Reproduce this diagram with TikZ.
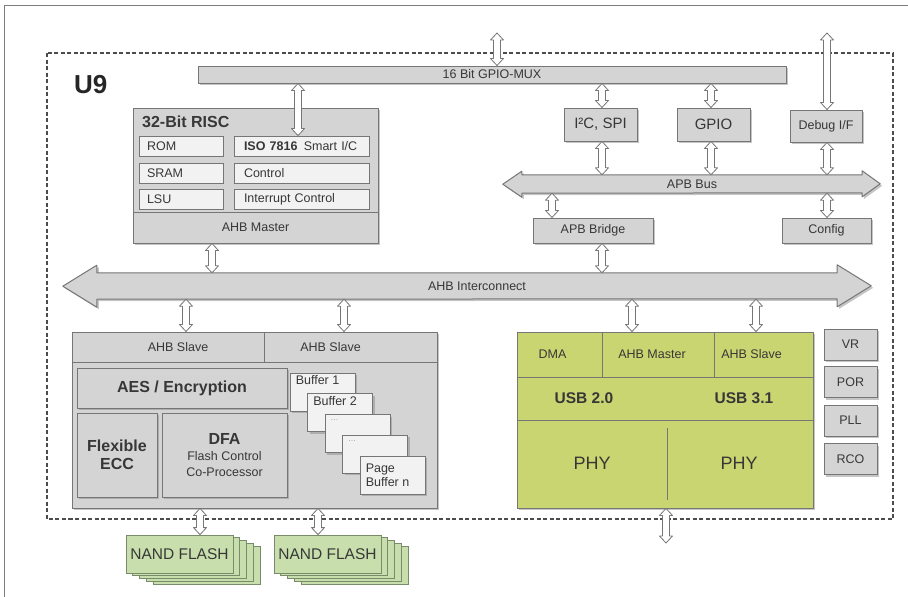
\documentclass[tikz,border=0pt]{standalone}
\usepackage{fontspec}
\setmainfont{Liberation Sans}
\usetikzlibrary{calc,shadows,backgrounds}

\definecolor{boxgray}{RGB}{212,212,212}
\definecolor{boxline}{RGB}{118,118,118}
\definecolor{cellwhite}{RGB}{242,242,242}
\definecolor{usbgreen}{RGB}{201,213,112}
\definecolor{nandgreen}{RGB}{200,222,172}
\definecolor{nandline}{RGB}{120,140,105}
\definecolor{txtgray}{RGB}{55,55,55}
\definecolor{framegray}{RGB}{125,125,125}

\tikzset{
  lbl/.style={font=\fontsize{12.5}{14}\selectfont, text=txtgray},
  bigbf/.style={font=\fontsize{16}{18}\selectfont\bfseries, text=txtgray},
  shade box/.style={drop shadow={shadow xshift=2pt, shadow yshift=-2pt, opacity=0.45}},
  graybox/.style={draw=boxline, fill=boxgray, line width=1pt, inner sep=0pt, shade box, lbl},
  stripbox/.style={draw=boxline, fill=boxgray, line width=1pt, inner sep=0pt, lbl},
  cellbox/.style={draw=boxline, fill=cellwhite, line width=0.9pt, inner sep=0pt, lbl},
  leftcell/.style={cellbox, inner xsep=8pt, align=left, minimum height=20pt},
  bufbox/.style={cellbox, shade box, minimum width=65pt, minimum height=38pt},
  buflbl/.style={lbl, anchor=north west, inner xsep=6pt, inner ysep=3pt},
  dotlbl/.style={font=\fontsize{9}{9}\selectfont, text=black!35, anchor=north west, inner xsep=6pt, inner ysep=5pt},
  greencell/.style={draw=boxline, fill=usbgreen, line width=0.9pt, inner sep=0pt, lbl},
  sidebox/.style={graybox, minimum width=53pt, minimum height=31pt},
  nandcard/.style={draw=nandline, fill=nandgreen, line width=0.8pt, minimum width=107pt, minimum height=38pt, inner sep=0pt,
    font=\fontsize{15.5}{16}\selectfont, text=txtgray},
  dlink/.style={draw=boxline, fill=white, line width=0.8pt, line join=round},
  busfill/.style={draw=boxline, fill=boxgray, line width=1pt, line join=round, shade box},
}

% hollow up/down arrow at x, from an upper anchor to a lower anchor
\newcommand{\dblarrow}[3]{%
  \draw[dlink] let \p1=(#2), \p2=(#3), \p3=(#1,0) in
    (\x3-3.5pt,\y1-7pt) -- (\x3-6.5pt,\y1-7pt) -- (\x3,\y1) -- (\x3+6.5pt,\y1-7pt) -- (\x3+3.5pt,\y1-7pt)
    -- (\x3+3.5pt,\y2+7pt) -- (\x3+6.5pt,\y2+7pt) -- (\x3,\y2) -- (\x3-6.5pt,\y2+7pt) -- (\x3-3.5pt,\y2+7pt) -- cycle;}

\begin{document}
\begin{tikzpicture}[x=1pt,y=-1pt]
\useasboundingbox (0,0) rectangle (908,597);
\begin{scope}[on background layer]
\fill[white] (0,0) rectangle (908,597);
\end{scope}

% frame and chip outline
\draw[framegray, line width=1.5pt] (4.5,597) -- (4.5,5.5) -- (908,5.5);
\draw[black!70, line width=1.2pt, dash pattern=on 4pt off 2.5pt] (47,53) rectangle (893,519);
\node[font=\fontsize{26}{26}\selectfont\bfseries, text=black!85, anchor=west, inner sep=0pt] (u9) at (74,85) {U9};

\coordinate (muxtop) at (497,33);
\coordinate (dbgtop) at (827,33);
\coordinate (usbout) at (666,543);

% GPIO mux and RISC core
\node[graybox, minimum width=588pt, minimum height=17pt] (mux) at (492,74.5) {16 Bit GPIO-MUX};

\node[graybox, minimum width=245pt, minimum height=135pt] (risc) at (255.5,175.5) {};
\node[bigbf, anchor=west, inner sep=0pt] (risctitle) at (142,122) {32-Bit RISC};
\node[leftcell, text width=68pt] (rom) at (181,146) {ROM};
\node[leftcell, text width=68pt] (sram) at (181,173) {SRAM};
\node[leftcell, text width=68pt] (lsu) at (181,199.5) {LSU};
\node[leftcell, text width=115pt, inner xsep=10pt] (iso) at (301.5,146) {{\bfseries ISO 7816}\enspace Smart I/C};
\node[leftcell, text width=115pt, inner xsep=10pt] (ctrl) at (301.5,173) {Control};
\node[leftcell, text width=115pt, inner xsep=10pt] (intctrl) at (301.5,199.5) {Interrupt Control};
\node[stripbox, minimum width=245pt, minimum height=31pt] (rmaster) at (255.5,227.5) {AHB Master};

% peripherals and APB
\node[graybox, minimum width=73pt, minimum height=33pt, font=\fontsize{15}{16}\selectfont] (i2c) at (600.5,124.5) {I²C, SPI};
\node[graybox, minimum width=73pt, minimum height=33pt, font=\fontsize{15}{16}\selectfont] (gpio) at (713.5,124.5) {GPIO};
\node[graybox, minimum width=72pt, minimum height=32pt] (debug) at (826,126) {Debug I/F};

\node[lbl, minimum width=340pt, minimum height=18pt, inner sep=0pt] (apb) at (692,184) {APB Bus};
\node[graybox, minimum width=120pt, minimum height=25pt] (apbbr) at (593,230.5) {APB Bridge};
\node[graybox, minimum width=89pt, minimum height=25pt] (config) at (826.5,230.5) {Config};

\node[minimum width=740pt, minimum height=26pt, inner sep=0pt,
  label={[lbl, xshift=10pt]center:AHB Interconnect}] (ahb) at (467,286) {};

\begin{scope}[on background layer]
\draw[busfill] (apb.north west) -- (apb.north east) -- ++(0,-4) -- ++(18,13) -- ++(-18,13) -- ++(0,-4)
  -- (apb.south west) -- ++(0,4) -- ++(-19,-13) -- ++(19,-13) -- cycle;
\draw[busfill] (ahb.north west) -- (ahb.north east) -- ++(0,-8) -- ++(34,21) -- ++(-34,21) -- ++(0,-8)
  -- (ahb.south west) -- ++(0,8) -- ++(-34,-21) -- ++(34,-21) -- cycle;
\end{scope}

% NAND controller
\node[graybox, minimum width=365pt, minimum height=176pt] (nandc) at (254.5,420) {};
\node[stripbox, minimum width=192pt, minimum height=30pt, label={[lbl, xshift=10pt]center:AHB Slave}] (slave1) at (168,347) {};
\node[stripbox, minimum width=173pt, minimum height=30pt, label={[lbl, xshift=-20pt]center:AHB Slave}] (slave2) at (350.5,347) {};
\node[graybox, bigbf, minimum width=210pt, minimum height=40pt] (aes) at (182,388) {AES / Encryption};
\node[graybox, bigbf, minimum width=80pt, minimum height=84pt, align=center] (ecc) at (117,455) {Flexible\\ECC};
\node[graybox, minimum width=125pt, minimum height=84pt, align=center, font=\fontsize{12.5}{16}\selectfont]
  (dfa) at (224.5,455) {{\fontsize{16}{16}\selectfont\bfseries DFA}\\Flash Control\\Co-Processor};

\node[bufbox, label={[buflbl]north west:Buffer 1}] (buf1) at (322.5,392) {};
\node[bufbox, label={[buflbl]north west:Buffer 2}] (buf2) at (340,412.8) {};
\node[bufbox, label={[dotlbl]north west:...}] (buf3) at (357.5,433.6) {};
\node[bufbox, label={[dotlbl]north west:...}] (buf4) at (375,454.4) {};
\node[bufbox, label={[lbl, anchor=west, align=left, inner xsep=6pt]west:Page\\Buffer n}] (bufn) at (392.5,475.2) {};

% NAND flash stacks
\foreach \k in {4,3,2,1} \node[nandcard] (nandA\k) at (179.5+6.75*\k,554+2.75*\k) {};
\node[nandcard] (nandA) at (179.5,554) {NAND FLASH};
\foreach \k in {4,3,2,1} \node[nandcard] (nandB\k) at (327.5+6.75*\k,554+2.75*\k) {};
\node[nandcard] (nandB) at (327.5,554) {NAND FLASH};

% USB block
\node[greencell, shade box, minimum width=296pt, minimum height=176pt] (usb) at (665,420) {};
\node[greencell, minimum width=85pt, minimum height=45pt, label={[lbl, xshift=-7pt]center:DMA}] (dma) at (559.5,354.5) {};
\node[greencell, minimum width=112pt, minimum height=45pt, label={[lbl, xshift=-6pt]center:AHB Master}] (usbmaster) at (658,354.5) {};
\node[greencell, minimum width=99pt, minimum height=45pt, label={[lbl, xshift=-12pt]center:AHB Slave}] (usbslave) at (763.5,354.5) {};
\node[greencell, minimum width=296pt, minimum height=43pt] (usbrow) at (665,398.5) {};
\node[bigbf, font=\fontsize{15.5}{16}\selectfont\bfseries] (usb20) at (584,398) {USB 2.0};
\node[bigbf, font=\fontsize{15.5}{16}\selectfont\bfseries] (usb31) at (744,398) {USB 3.1};
\node[lbl, font=\fontsize{18}{18}\selectfont] (phya) at (592,463) {PHY};
\node[lbl, font=\fontsize{18}{18}\selectfont] (phyb) at (739,463) {PHY};
\draw[boxline, line width=0.9pt] (667,428) -- (667,500);

% clock / power blocks
\node[sidebox] (vr) at (850.5,344.5) {VR};
\node[sidebox] (por) at (850.5,382) {POR};
\node[sidebox] (pll) at (850.5,420.5) {PLL};
\node[sidebox] (rco) at (850.5,459) {RCO};

% links
\dblarrow{497}{muxtop}{mux.north}
\dblarrow{827}{dbgtop}{debug.north}
\dblarrow{298}{mux.south}{iso.north}
\dblarrow{602}{mux.south}{i2c.north}
\dblarrow{711}{mux.south}{gpio.north}
\dblarrow{602}{i2c.south}{apb.north}
\dblarrow{711}{gpio.south}{apb.north}
\dblarrow{827}{debug.south}{apb.north}
\dblarrow{552}{apb.south}{apbbr.north}
\dblarrow{827}{apb.south}{config.north}
\dblarrow{602}{apbbr.south}{ahb.north}
\dblarrow{212}{risc.south}{ahb.north}
\dblarrow{186}{ahb.south}{slave1.north}
\dblarrow{344}{ahb.south}{slave2.north}
\dblarrow{632}{ahb.south}{usb.north}
\dblarrow{756}{ahb.south}{usb.north}
\dblarrow{200}{nandc.south}{nandA.north}
\dblarrow{318}{nandc.south}{nandB.north}
\dblarrow{666}{usb.south}{usbout}
\end{tikzpicture}
\end{document}
